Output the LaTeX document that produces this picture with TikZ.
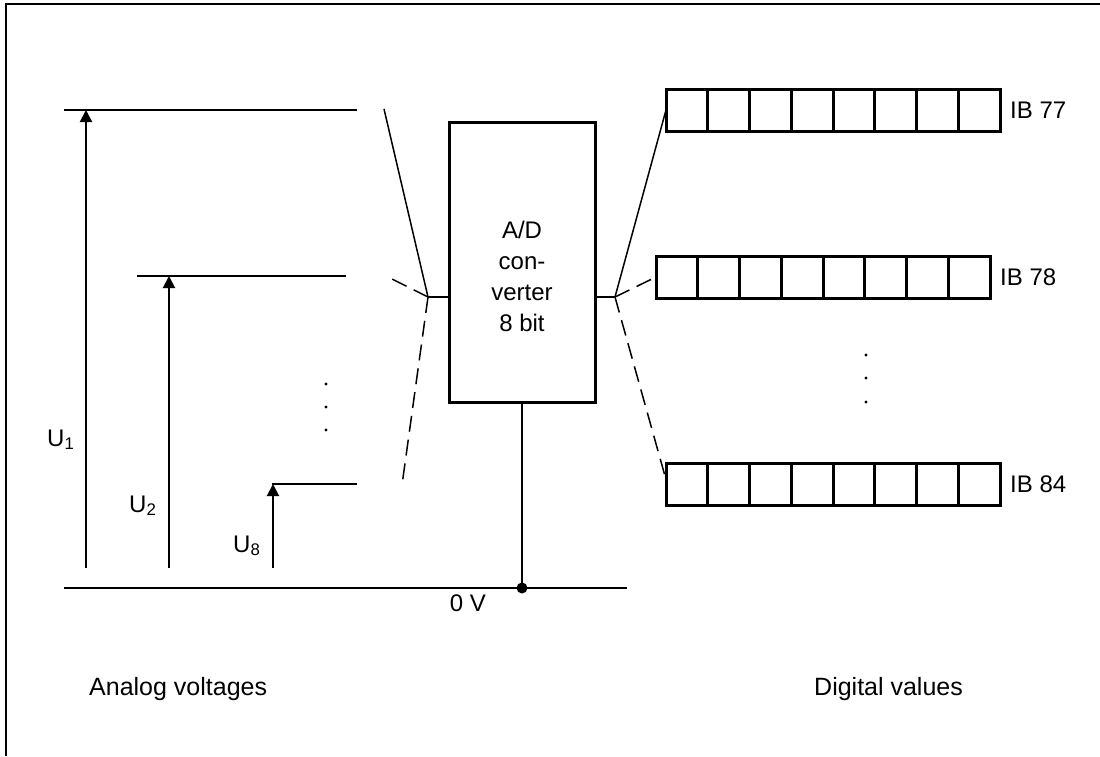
\documentclass[tikz,border=0pt]{standalone}
\usepackage{fontspec}
\setmainfont{Liberation Sans}
\usetikzlibrary{arrows.meta,positioning}

\tikzset{
  thinline/.style={line width=1.5pt},
  dashline/.style={line width=1.5pt, dash pattern=on 16pt off 8pt},
  regline/.style={line width=3pt},
  regbox/.style={draw, line width=3pt, minimum width=334pt, minimum height=42pt,
    inner sep=0pt, outer sep=0pt, anchor=north west},
  voltarrow/.style={line width=2pt, -{Triangle[length=12pt,width=12pt]}},
  txt/.style={inner sep=0pt, font=\fontsize{24}{31}\selectfont},
}

\begin{document}
\begin{tikzpicture}[x=1pt,y=-1pt]
\useasboundingbox (0,0) rectangle (1100,756);

% Frame (top and left edges)
\draw[line width=2pt] (6,756) -- (6,4) -- (1100,4);

% Voltage levels
\coordinate (lvl1w) at (64,110);  \coordinate (lvl1e) at (357,110);
\coordinate (lvl2w) at (137,276); \coordinate (lvl2e) at (346,276);
\coordinate (lvl8w) at (272,484); \coordinate (lvl8e) at (357,484);
\draw[thinline] (lvl1w) -- (lvl1e);
\draw[thinline] (lvl2w) -- (lvl2e);
\draw[thinline] (lvl8w) -- (lvl8e);

% Voltage arrows
\foreach \n/\x/\y in {1/86/110, 2/169/276, 8/273/484} {
  \coordinate (foot\n) at (\x,568);
  \coordinate (head\n) at (\x,\y);
  \draw[voltarrow] (foot\n) -- (head\n);
}

% Voltage labels
\node[txt, anchor=base west] (lab1) at (47,446) {U\textsubscript{1}};
\node[txt, anchor=base west] (lab2) at (129,512) {U\textsubscript{2}};
\node[txt, anchor=base west] (lab8) at (233,552) {U\textsubscript{8}};

% Dots between inputs
\foreach \y in {384,407,430}
  \fill (326,\y) circle (1.7pt);

% Converter
\node[draw, line width=3pt, minimum width=146pt, minimum height=280pt,
  inner sep=0pt, outer sep=0pt] (adc) at (522,262) {};
\node[txt, align=center] (adclab) at (522,276) {A/D\\con-\\verter\\8 bit};

% Input fan
\coordinate (lfan) at (428,297);
\coordinate (in1) at (384,109);
\coordinate (in2) at (386,276);
\coordinate (in8) at (402,485);
\draw[thinline] (adc.west |- lfan) -- (lfan);
\draw[thinline] (lfan) -- (in1);
\draw[dashline] (lfan) -- (in2);
\draw[dashline] (lfan) -- (in8);

% Registers
\node[regbox] (reg77) at (666,89) {};
\node[regbox] (reg78) at (656,256) {};
\node[regbox] (reg84) at (666,463) {};
\foreach \r in {reg77,reg78,reg84}
  \foreach \i in {1,...,7}
    \draw[regline] ([xshift=\i*41.75pt]\r.north west) -- ([xshift=\i*41.75pt]\r.south west);

\node[txt, right=10pt of reg77] (ib77) {IB 77};
\node[txt, right=10pt of reg78] (ib78) {IB 78};
\node[txt, right=10pt of reg84] (ib84) {IB 84};

% Output fan
\coordinate (rfan) at (615,297);
\coordinate (out84) at (665,476);
\draw[thinline] (adc.east |- rfan) -- (rfan);
\draw[thinline] (rfan) -- (reg77.west);
\draw[dashline] (rfan) -- (reg78.west);
\draw[dashline] (rfan) -- (out84);

% Dots between registers
\foreach \y in {355,378,402}
  \fill (866,\y) circle (1.7pt);

% Ground
\coordinate (gndw) at (64,588);
\coordinate (gnde) at (627,588);
\coordinate (gnd) at (522,588);
\draw[line width=2pt] (gndw) -- (gnde);
\draw[thinline] (adc.south) -- (gnd);
\fill (gnd) circle (5.5pt);
\node[txt] (zerov) at (468,603) {0 V};

% Captions
\node[txt, font=\fontsize{25}{30}\selectfont, anchor=base west] (analog) at (89,695) {Analog voltages};
\node[txt, font=\fontsize{25}{30}\selectfont, anchor=base west] (digital) at (814,695) {Digital values};

\end{tikzpicture}
\end{document}
